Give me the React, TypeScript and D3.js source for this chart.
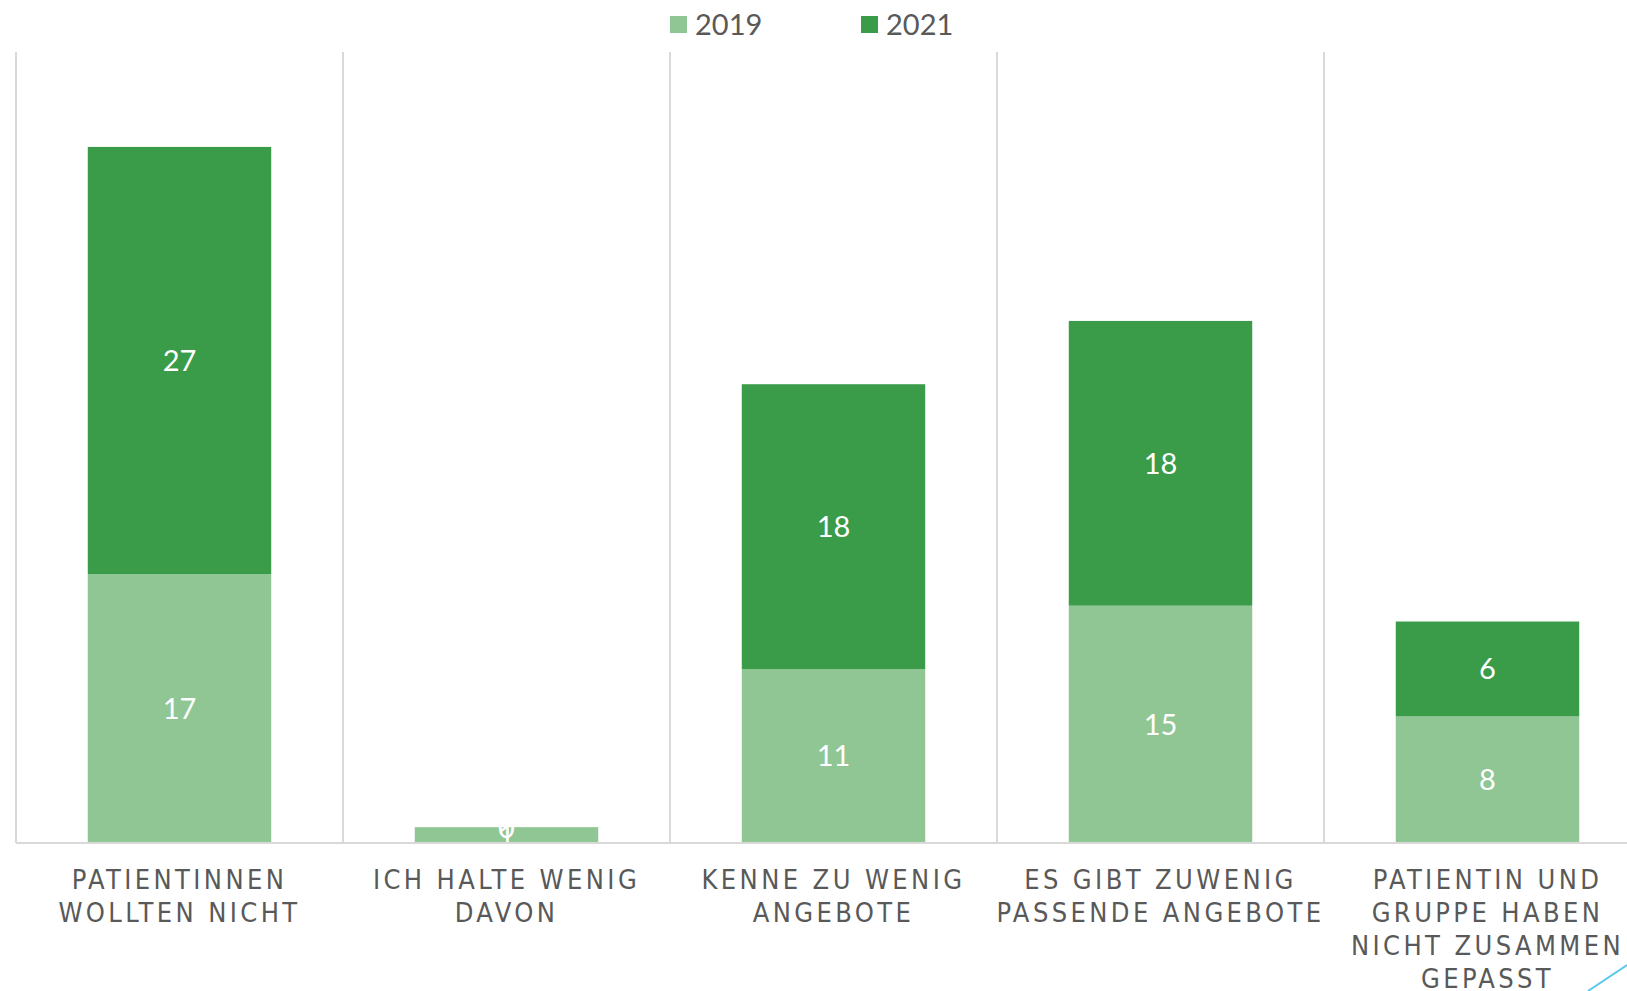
import React from "react";
import * as d3 from "d3";

const categories = [
  ["PATIENTINNEN", "WOLLTEN NICHT"],
  ["ICH HALTE WENIG", "DAVON"],
  ["KENNE ZU WENIG", "ANGEBOTE"],
  ["ES GIBT ZUWENIG", "PASSENDE ANGEBOTE"],
  ["PATIENTIN UND", "GRUPPE HABEN", "NICHT ZUSAMMEN", "GEPASST"],
];
const seriesNames = ["2019", "2021"];
const values2019 = [17, 1, 11, 15, 8];
const values2021 = [27, 0, 18, 18, 6];
const colors = ["#8fc693", "#3a9b48"];

const width = 1627;
const height = 991;
const plotTop = 52;
const plotBottom = 843;
const plotLeft = 16;
const cellWidth = 327;

export default function App() {
  const keys = categories.map((c) => c.join(" "));
  const x = d3
    .scaleBand<string>()
    .domain(keys)
    .range([plotLeft, plotLeft + cellWidth * keys.length])
    .paddingInner(0.439)
    .paddingOuter(0.2195);
  const y = d3.scaleLinear().domain([0, 50]).range([plotBottom, plotTop]);

  const rows = keys.map((k, i) => ({ key: k, "2019": values2019[i], "2021": values2021[i] }));
  const stacked = d3.stack<any>().keys(seriesNames)(rows);

  const step = x.step();
  const gap = (step * x.paddingInner()) / 2;
  const separators = keys.map((k) => (x(k) as number) - gap);
  separators.push((x(keys[keys.length - 1]) as number) + x.bandwidth() + gap);

  return (
    <svg
      width={width}
      height={height}
      style={{ position: "absolute", left: 0, top: 0, background: "#fff" }}
    >
      {/* category separators */}
      {separators.map((sx, i) => (
        <line key={i} x1={sx} x2={sx} y1={plotTop} y2={plotBottom} stroke="#d9d9d9" strokeWidth={2} />
      ))}

      {/* bars */}
      {stacked.map((layer, si) => (
        <g key={layer.key} fill={colors[si]}>
          {layer.map((d, i) => (
            <rect
              key={i}
              x={x(keys[i])}
              y={y(d[1])}
              width={x.bandwidth()}
              height={y(d[0]) - y(d[1])}
            />
          ))}
        </g>
      ))}

      {/* value labels */}
      {stacked.map((layer) => (
        <g key={"l" + layer.key} fill="#fff" fontFamily="Lato, 'Open Sans', sans-serif" fontSize={29} textAnchor="middle">
          {layer.map((d, i) => (
            <text
              key={i}
              x={(x(keys[i]) as number) + x.bandwidth() / 2}
              y={(y(d[0]) + y(d[1])) / 2}
              dy="0.36em"
            >
              {d[1] - d[0]}
            </text>
          ))}
        </g>
      ))}

      {/* baseline */}
      <line x1={plotLeft} x2={width} y1={plotBottom} y2={plotBottom} stroke="#d9d9d9" strokeWidth={2} />

      {/* category labels */}
      {categories.map((lines, i) => (
        <text
          key={i}
          x={(x(keys[i]) as number) + x.bandwidth() / 2}
          y={889}
          textAnchor="middle"
          fill="#595959"
          fontFamily="'DejaVu Sans Condensed', 'Liberation Sans Narrow', sans-serif"
          fontSize={27}
          letterSpacing={3.4}
        >
          {lines.map((ln, j) => (
            <tspan key={j} x={(x(keys[i]) as number) + x.bandwidth() / 2} y={889 + j * 33}>
              {ln}
            </tspan>
          ))}
        </text>
      ))}

      {/* legend */}
      {seriesNames.map((s, i) => (
        <g key={s} transform={`translate(${670 + i * 191},0)`}>
          <rect x={0} y={16} width={17} height={17} fill={colors[i]} />
          <text x={25} y={35} fill="#595959" fontFamily="Lato, 'Open Sans', sans-serif" fontSize={29}>
            {s}
          </text>
        </g>
      ))}

      {/* corner decoration */}
      <line x1={1588} y1={991} x2={1627} y2={965} stroke="#5bc8f0" strokeWidth={2} />
    </svg>
  );
}
